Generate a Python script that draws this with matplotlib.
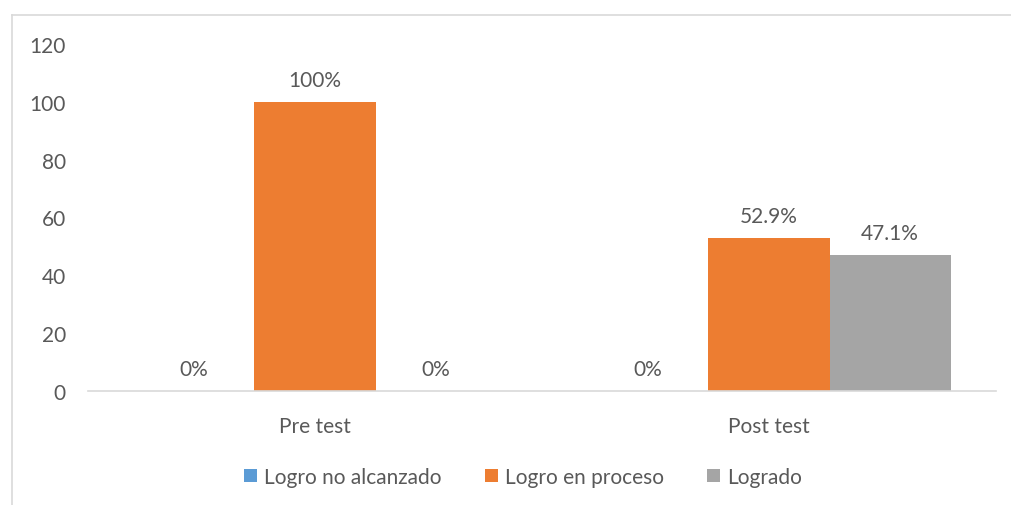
import matplotlib
matplotlib.use("Agg")
import matplotlib.pyplot as plt
from matplotlib.lines import Line2D
import numpy as np

categories = ["Pre test", "Post test"]
series_names = ["Logro no alcanzado", "Logro en proceso", "Logrado"]
values_no_alcanzado = [0, 0]
values_en_proceso = [100, 52.9]
values_logrado = [0, 47.1]
labels_no_alcanzado = ["0%", "0%"]
labels_en_proceso = ["100%", "52.9%"]
labels_logrado = ["0%", "47.1%"]
colors = ["#5B9BD5", "#ED7D31", "#A5A5A5"]
yticks = [0, 20, 40, 60, 80, 100, 120]

plt.rcParams['font.family'] = ['Lato', 'DejaVu Sans']
text_color = "#595959"
fs = 15

fig = plt.figure(figsize=(10.12, 5.06), dpi=100)
ax = fig.add_axes([88/1012, 1-392/506, (996-88)/1012, (392-45)/506])

x = np.arange(len(categories))
w = 0.267
all_vals = [values_no_alcanzado, values_en_proceso, values_logrado]
all_labels = [labels_no_alcanzado, labels_en_proceso, labels_logrado]
for i, (vals, labs) in enumerate(zip(all_vals, all_labels)):
    pos = x + (i - 1) * w
    bars = ax.bar(pos, vals, w, color=colors[i], label=series_names[i])
    for b, lab in zip(bars, labs):
        ax.annotate(lab, (b.get_x() + b.get_width()/2, b.get_height()),
                    xytext=(0, 11.5), textcoords="offset points",
                    ha="center", va="baseline", fontsize=fs, color=text_color)

ax.set_xlim(-0.5, 1.5)
ax.set_ylim(0, 120)
ax.set_yticks(yticks)
ax.set_xticks(x)
ax.set_xticklabels(categories)
for s in ["top", "right", "left"]:
    ax.spines[s].set_visible(False)
ax.spines["bottom"].set_color("#D9D9D9")
ax.spines["bottom"].set_linewidth(1.2)
ax.tick_params(axis="y", length=0, pad=16, labelsize=fs, labelcolor=text_color)
ax.tick_params(axis="x", length=0, pad=18, labelsize=fs, labelcolor=text_color)

leg = fig.legend(loc="center", bbox_to_anchor=(523/1012, 1-478/506), ncol=3,
                 frameon=False, fontsize=fs, handlelength=0.62, handleheight=0.62,
                 handletextpad=0.33, columnspacing=2.1, labelcolor=text_color)

# outer border (top and left visible)
fig.add_artist(Line2D([12/1012, 1.0], [1-15.5/506, 1-15.5/506], color="#D9D9D9", lw=1.2,
                      transform=fig.transFigure))
fig.add_artist(Line2D([12.5/1012, 12.5/1012], [0, 1-15.5/506], color="#D9D9D9", lw=1.2,
                      transform=fig.transFigure))

fig.savefig("out.png", dpi=100)
